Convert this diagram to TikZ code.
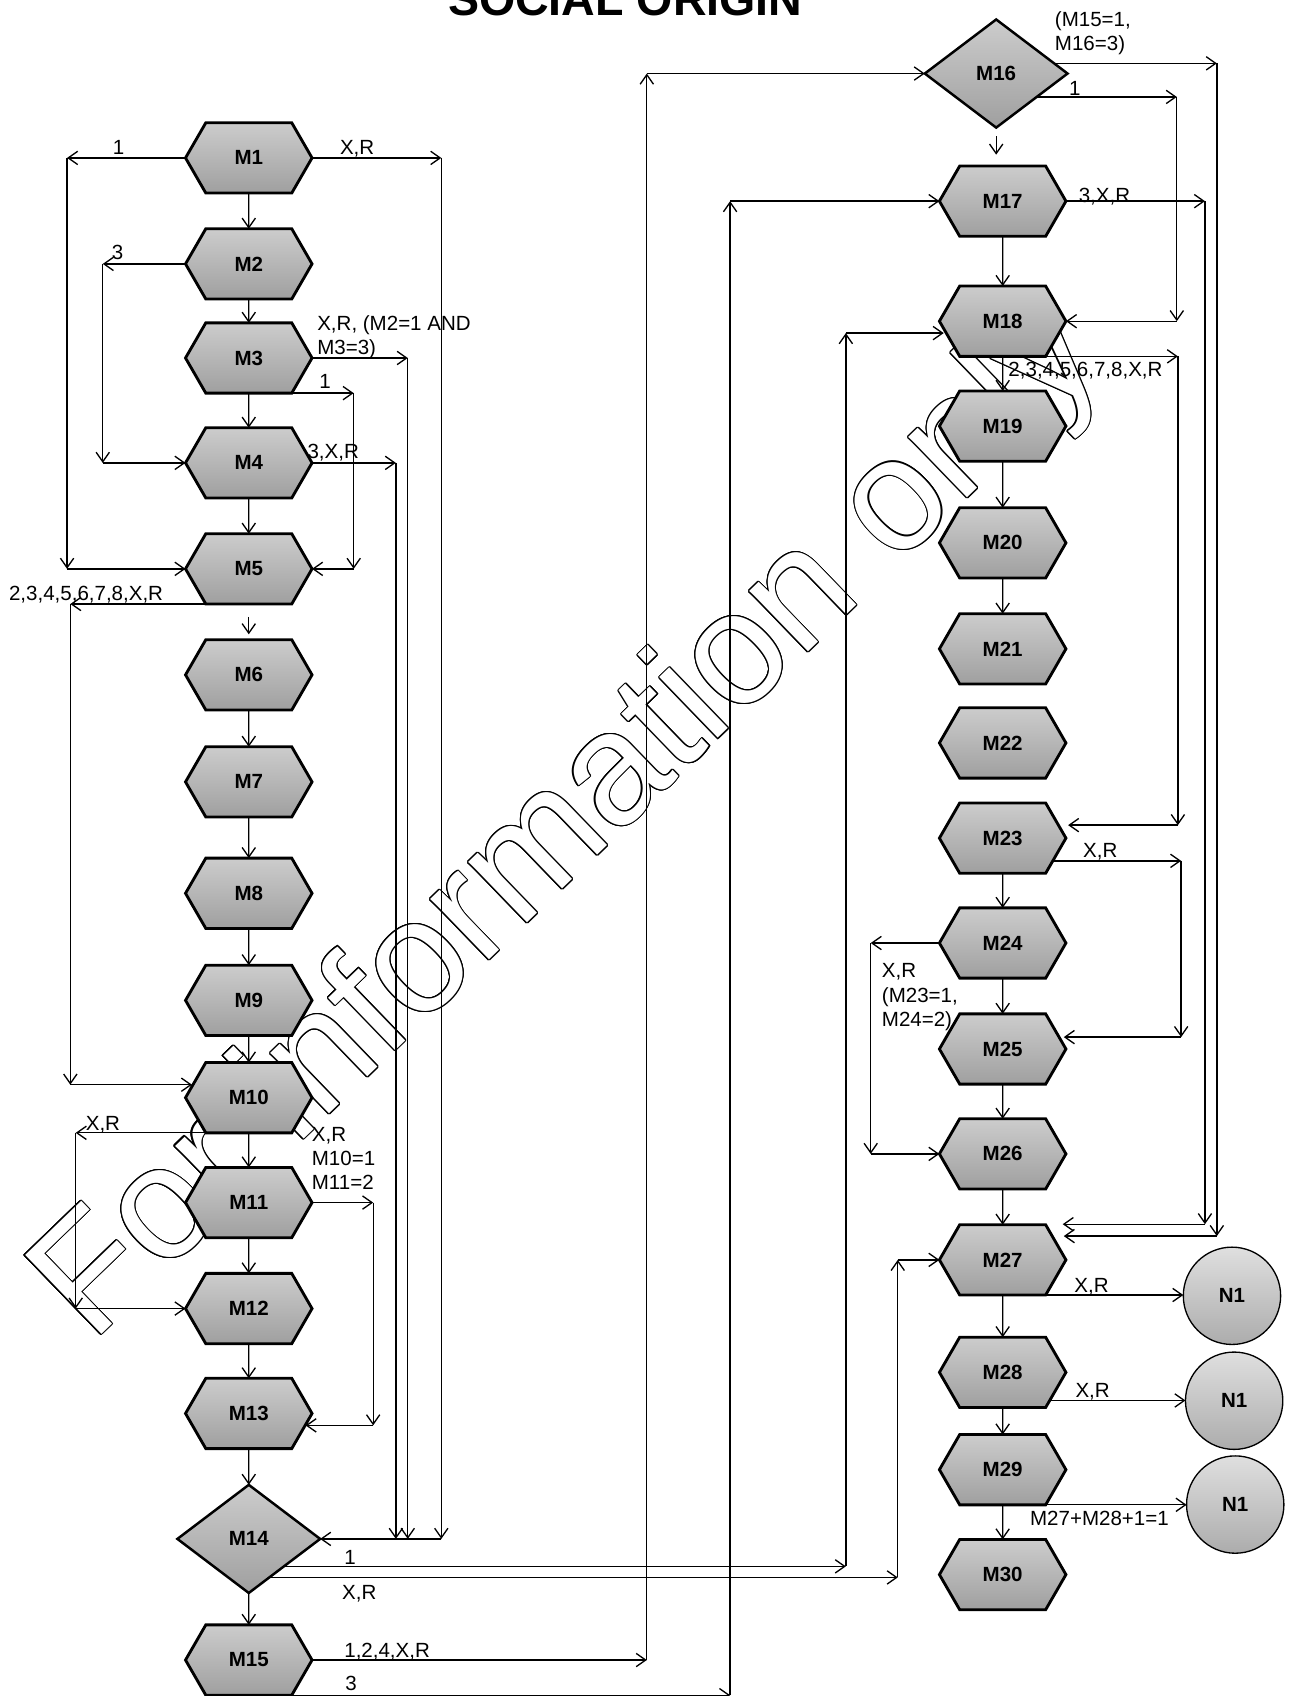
\documentclass[tikz,border=0pt]{standalone}
\usepackage{fontspec}
\setmainfont{Liberation Sans}
\usepackage{contour}
\usetikzlibrary{positioning, arrows.meta, shapes.geometric, shapes.symbols, calc}

\contourlength{0.6pt}
\contournumber{16}

\begin{document}
\begin{tikzpicture}[
    x=0.02cm, y=-0.02cm,
    font=\fontsize{10.8}{12.8}\selectfont,
    module/.style={signal, signal to=east and west, signal pointer angle=120, draw, line width=1.5pt,
        minimum width=2.34cm, minimum height=1.3cm, inner sep=0pt, outer sep=0pt,
        top color=gray!40, bottom color=gray!75, font=\fontsize{10.8}{12.8}\selectfont\bfseries},
    decision/.style={diamond, draw, line width=1.3pt, minimum width=2.64cm, minimum height=2cm,
        inner sep=0pt, outer sep=0pt,
        top color=gray!40, bottom color=gray!75, font=\fontsize{10.8}{12.8}\selectfont\bfseries},
    exit/.style={circle, draw, line width=0.7pt, minimum size=1.8cm, inner sep=0pt, outer sep=0pt,
        top color=gray!25, bottom color=gray!65, font=\fontsize{10.8}{12.8}\selectfont\bfseries},
    flow/.style={-{Straight Barb[length=5pt,width=7pt]}, line width=0.7pt},
    cond/.style={anchor=base west, inner sep=0pt, align=left}
]
    \useasboundingbox (0,0) rectangle (1194,1568);

    % watermark
    \node[rotate=44, font=\fontsize{84}{90}\selectfont, text=white] (mark) at (528,762)
        {\contour{black}{For information only}};

    % title
    \node[anchor=base, font=\fontsize{24.5}{28}\selectfont\bfseries] (title) at (578,14) {SOCIAL ORIGIN};

    % left column
    \node[module] (M1) at (230,146) {M1};
    \node[module] (M2) [below=0.66cm of M1] {M2};
    \node[module] (M3) [below=0.44cm of M2] {M3};
    \node[module] (M4) [below=0.64cm of M3] {M4};
    \node[module] (M5) [below=0.66cm of M4] {M5};
    \node[module] (M6) [below=0.66cm of M5] {M6};
    \node[module] (M7) [below=0.68cm of M6] {M7};
    \node[module] (M8) [below=0.76cm of M7] {M8};
    \node[module] (M9) [below=0.68cm of M8] {M9};
    \node[module] (M10) [below=0.5cm of M9] {M10};
    \node[module] (M11) [below=0.64cm of M10] {M11};
    \node[module] (M12) [below=0.66cm of M11] {M12};
    \node[module] (M13) [below=0.64cm of M12] {M13};
    \node[decision] (M14) [below=0.67cm of M13] {M14};
    \node[module] (M15) [below=0.59cm of M14] {M15};

    % right column
    \node[decision] (M16) at (921,68) {M16};
    \node[module] (M17) [below=0.71cm of M16, xshift=0.12cm] {M17};
    \node[module] (M18) [below=0.92cm of M17] {M18};
    \node[module] (M19) [below=0.64cm of M18] {M19};
    \node[module] (M20) [below=0.86cm of M19] {M20};
    \node[module] (M21) [below=0.66cm of M20] {M21};
    \node[module] (M22) [below=0.44cm of M21] {M22};
    \node[module] (M23) [below=0.46cm of M22] {M23};
    \node[module] (M24) [below=0.64cm of M23] {M24};
    \node[module] (M25) [below=0.66cm of M24] {M25};
    \node[module] (M26) [below=0.64cm of M25] {M26};
    \node[module] (M27) [below=0.66cm of M26] {M27};
    \node[module] (M28) [below=0.78cm of M27] {M28};
    \node[module] (M29) [below=0.5cm of M28] {M29};
    \node[module] (M30) [below=0.64cm of M29] {M30};

    \node[exit] (N1a) at (1139,1198) {N1};
    \node[exit] (N1b) at (1141,1295) {N1};
    \node[exit] (N1c) at (1142,1391) {N1};

    % column flow
    \foreach \a/\b in {M1/M2, M2/M3, M3/M4, M4/M5, M6/M7, M7/M8, M8/M9, M9/M10, M10/M11,
                       M11/M12, M12/M13, M13/M14, M14/M15, M17/M18, M18/M19, M19/M20,
                       M20/M21, M23/M24, M24/M25, M25/M26, M26/M27, M27/M28, M28/M29, M29/M30}
        \draw[flow] (\a) -- (\b);
    \draw[flow] ($(M5.south)+(0,12)$) -- ($(M6.north)+(0,-5)$);
    \draw[flow] ($(M16.south)+(0,8)$) -- ($(M16.south)+(0,25)$);

    % entry points on the borders
    \coordinate (m10in) at ($(M10.west)+(6,-12)$);
    \coordinate (m13in) at ($(M13.east)+(-6,11)$);
    \coordinate (m18in) at ($(M18.west)+(4,11)$);
    \coordinate (m23in) at ($(M23.east)+(2,-12)$);
    \coordinate (m23out) at ($(M23.east)+(-12,21)$);
    \coordinate (m25in) at ($(M25.east)+(-2,-11)$);
    \coordinate (m27ina) at ($(M27.east)+(-3,-33)$);
    \coordinate (m27inb) at ($(M27.east)+(-2,-22)$);
    \coordinate (m28out) at ($(M28.east)+(-15,26)$);

    % M1 branches
    \coordinate (j1a) at (62,0 |- M1.west);
    \coordinate (j1b) at (62,0 |- M5.west);
    \draw[flow] (M1.west) -- (j1a);
    \draw[flow] (j1a) -- (j1b);
    \draw[flow] (j1b) -- (M5.west);
    \coordinate (j1c) at (408,0 |- M1.east);
    \coordinate (j1d) at (408,0 |- M14.east);
    \draw[flow] (M1.east) -- (j1c);
    \draw[flow] (j1c) -- (j1d);
    \draw[flow] (j1d) -- (M14.east);

    % M2 branch
    \coordinate (j2a) at (95,0 |- M2.west);
    \coordinate (j2b) at (95,0 |- M4.west);
    \draw[flow] (M2.west) -- (j2a);
    \draw[flow] (j2a) -- (j2b);
    \draw[flow] (j2b) -- (M4.west);

    % M3 branches
    \coordinate (j3a) at (377,0 |- M3.east);
    \coordinate (j3b) at (377,0 |- M14.east);
    \draw[flow] (M3.east) -- (j3a);
    \draw[flow] (j3a) -- (j3b);
    \coordinate (j3c) at (327,0 |- M3.south east);
    \coordinate (j3d) at (327,0 |- M5.east);
    \draw[flow] (M3.south east) -- (j3c);
    \draw[flow] (j3c) -- (j3d);
    \draw[flow] (j3d) -- (M5.east);

    % M4 branch
    \coordinate (j4a) at (366,0 |- M4.east);
    \coordinate (j4b) at (366,0 |- M14.east);
    \draw[flow] (M4.east) -- (j4a);
    \draw[flow] (j4a) -- (j4b);

    % M5 branch
    \coordinate (j5a) at (65,0 |- M5.south west);
    \coordinate (j5b) at (65,0 |- m10in);
    \draw[flow] (M5.south west) -- (j5a);
    \draw[flow] (j5a) -- (j5b);
    \draw[flow] (j5b) -- (m10in);

    % M10 branch
    \coordinate (j10a) at (70,0 |- M10.south west);
    \coordinate (j10b) at (70,0 |- M12.west);
    \draw[flow] (M10.south west) -- (j10a);
    \draw[flow] (j10a) -- (j10b);
    \draw[flow] (j10b) -- (M12.west);

    % M11 branch
    \coordinate (j11a) at (345,0 |- M11.east);
    \coordinate (j11b) at (345,0 |- m13in);
    \draw[flow] (M11.east) -- (j11a);
    \draw[flow] (j11a) -- (j11b);
    \draw[flow] (j11b) -- (m13in);

    % M14 branches
    \coordinate (j14a) at (782,0 |- M14.-38);
    \coordinate (j14b) at (782,0 |- m18in);
    \draw[flow] (M14.-38) -- (j14a);
    \draw[flow] (j14a) -- (j14b);
    \draw[flow] (j14b) -- (m18in);
    \coordinate (j14c) at (830,0 |- M14.-62);
    \coordinate (j14d) at (830,0 |- M27.west);
    \draw[flow] (M14.-62) -- (j14c);
    \draw[flow] (j14c) -- (j14d);
    \draw[flow] (j14d) -- (M27.west);

    % M15 branches
    \coordinate (j15a) at (598,0 |- M15.east);
    \coordinate (j15b) at (598,0 |- M16.west);
    \draw[flow] (M15.east) -- (j15a);
    \draw[flow] (j15a) -- (j15b);
    \draw[flow] (j15b) -- (M16.west);
    \coordinate (j15c) at (675,0 |- M15.south east);
    \coordinate (j15d) at (675,0 |- M17.west);
    \draw[flow] (M15.south east) -- (j15c);
    \draw[flow] (j15c) -- (j15d);
    \draw[flow] (j15d) -- (M17.west);

    % M16 branches
    \coordinate (j16a) at (1125,0 |- M16.10);
    \coordinate (j16b) at (1125,0 |- m27inb);
    \draw[flow] (M16.10) -- (j16a);
    \draw[flow] (j16a) -- (j16b);
    \draw[flow] (j16b) -- (m27inb);
    \coordinate (j16c) at (1088,0 |- M16.-30);
    \coordinate (j16d) at (1088,0 |- M18.east);
    \draw[flow] (M16.-30) -- (j16c);
    \draw[flow] (j16c) -- (j16d);
    \draw[flow] (j16d) -- (M18.east);

    % M17 branch
    \coordinate (j17a) at (1114,0 |- M17.east);
    \coordinate (j17b) at (1114,0 |- m27ina);
    \draw[flow] (M17.east) -- (j17a);
    \draw[flow] (j17a) -- (j17b);
    \draw[flow] (j17b) -- (m27ina);

    % M18 branch
    \coordinate (j18a) at (1089,0 |- M18.south east);
    \coordinate (j18b) at (1089,0 |- m23in);
    \draw[flow] (M18.south east) -- (j18a);
    \draw[flow] (j18a) -- (j18b);
    \draw[flow] (j18b) -- (m23in);

    % M23 branch
    \coordinate (j23a) at (1092,0 |- m23out);
    \coordinate (j23b) at (1092,0 |- m25in);
    \draw[flow] (m23out) -- (j23a);
    \draw[flow] (j23a) -- (j23b);
    \draw[flow] (j23b) -- (m25in);

    % M24 branch
    \coordinate (j24a) at (805,0 |- M24.west);
    \coordinate (j24b) at (805,0 |- M26.west);
    \draw[flow] (M24.west) -- (j24a);
    \draw[flow] (j24a) -- (j24b);
    \draw[flow] (j24b) -- (M26.west);

    % exits
    \draw[flow] (M27.south east) -- (M27.south east -| N1a.west);
    \draw[flow] (m28out) -- (m28out -| N1b.west);
    \draw[flow] (M29.south east) -- (M29.south east -| N1c.west);

    % branch labels
    \node[cond] (t1) at (104,143) {1};
    \node[cond] (t2) at (314,143) {X,R};
    \node[cond] (t3) at (103,240) {3};
    \node[cond] (t4) at (293,328) {X,R, (M2=1 AND\\M3=3)};
    \node[cond] (t5) at (295,359) {1};
    \node[cond] (t6) at (284,424) {3,X,R};
    \node[cond] (t7) at (8,555) {2,3,4,5,6,7,8,X,R};
    \node[cond] (t8) at (79,1045) {X,R};
    \node[cond] (t9) at (288,1100) {X,R\\M10=1\\M11=2};
    \node[cond] (t10) at (318,1446) {1};
    \node[cond] (t11) at (316,1479) {X,R};
    \node[cond] (t12) at (318,1532) {1,2,4,X,R};
    \node[cond] (t13) at (319,1563) {3};
    \node[cond] (t14) at (975,47) {(M15=1,\\M16=3)};
    \node[cond] (t15) at (988,88) {1};
    \node[cond] (t16) at (997,187) {3,X,R};
    \node[cond] (t17) at (932,348) {2,3,4,5,6,7,8,X,R};
    \node[cond] (t18) at (1001,793) {X,R};
    \node[cond] (t19) at (815,949) {X,R\\(M23=1,\\M24=2)};
    \node[cond] (t20) at (993,1195) {X,R};
    \node[cond] (t21) at (994,1292) {X,R};
    \node[cond] (t22) at (952,1410) {M27+M28+1=1};

\end{tikzpicture}
\end{document}
